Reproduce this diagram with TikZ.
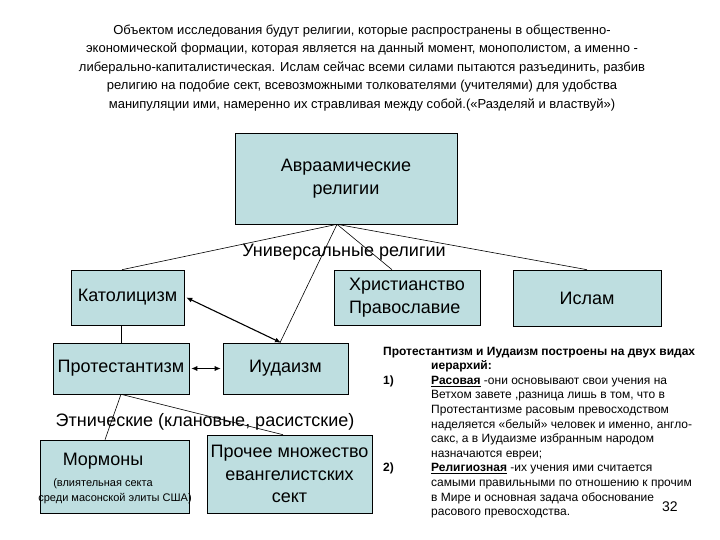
\documentclass[tikz,border=0pt]{standalone}
\usepackage{fontspec}
\setmainfont{Liberation Sans}
\usetikzlibrary{arrows.meta}
\definecolor{boxfill}{RGB}{190,222,224}
\tikzset{
  box/.style={draw=black, line width=0.6pt, fill=boxfill, rectangle, inner sep=0pt, font=\fontsize{18}{22.5}\selectfont, align=center},
  conn/.style={draw=black, line width=0.6pt},
  dbl/.style={draw=black, line width=1.1pt, {Latex[length=6pt,width=5pt]}-{Latex[length=6pt,width=5pt]}},
  lbl/.style={font=\fontsize{18}{22}\selectfont, inner sep=0pt},
  small/.style={font=\fontsize{11}{14}\selectfont, inner sep=0pt},
  rt/.style={font=\fontsize{12}{14}\selectfont, inner sep=0pt, anchor=base west},
  rtb/.style={rt, font=\fontsize{12}{14}\selectfont\bfseries},
}
\begin{document}
\begin{tikzpicture}[x=1pt,y=-1pt]
\useasboundingbox (0,0) rectangle (720,540);
\node[font=\fontsize{13}{18.5}\selectfont, align=center, inner sep=0pt] (intro) at (362,68)
{Объектом исследования будут религии, которые распространены в общественно-\\
экономической формации, которая является на данный момент, монополистом, а именно -\\
либерально-капиталистическая. Ислам сейчас всеми силами пытаются разъединить, разбив\\
религию на подобие сект, всевозможными толкователями (учителями) для удобства\\
манипуляции ими, намеренно их стравливая между собой.(«Разделяй и властвуй»)};

\node[box, minimum width=222pt, minimum height=91pt] (abr) at (346,178.5) {Авраамические\\религии};
\node[box, minimum width=113pt, minimum height=55pt] (kat) at (127.5,297.5) {Католицизм};
\node[box, minimum width=146pt, minimum height=55pt, align=left] (hrist) at (407,297.5) {Христианство\\Православие};
\node[box, minimum width=148pt, minimum height=56pt] (islam) at (587,298) {Ислам};
\node[box, minimum width=136pt, minimum height=51pt] (prot) at (121,368.5) {Протестантизм};
\node[box, minimum width=125pt, minimum height=51pt] (iud) at (285.5,368.5) {Иудаизм};
\node[box, minimum width=149pt, minimum height=73pt] (morm) at (114.5,476.5) {};
\node[box, minimum width=165pt, minimum height=78pt] (proch) at (289.5,474) {Прочее множество\\евангелистских\\сект};

\node[lbl] (mormt) at (103,461) {Мормоны};
\node[small] (mormt1) at (103,484) {(влиятельная секта};
\node[small] (mormt2) at (115,499) {среди масонской элиты США)};

\coordinate (apex) at ([xshift=-9pt]abr.south);
\draw[conn] (apex) -- ([xshift=-5.5pt]kat.north);
\draw[conn] (apex) -- ([xshift=-5.5pt]iud.north);
\draw[conn] (apex) -- ([xshift=-15pt]hrist.north);
\draw[conn] (apex) -- (islam.north);
\draw[conn] (prot.north) -- (prot.north |- kat.south);
\draw[dbl] ([xshift=2pt]kat.east) -- ([xshift=-4.5pt]iud.north);
\draw[dbl, line width=0.8pt] ([xshift=2pt]prot.east) -- ([xshift=-2pt]iud.west);
\draw[conn] (prot.south) -- ([xshift=-9.5pt]morm.north);
\draw[conn] (prot.south) -- ([xshift=-6.5pt]proch.north);

\node[lbl] (univ) at (344,252) {Универсальные религии};
\node[lbl] (ethn) at (205,422) {Этнические (клановые, расистские)};

\node[rtb] (r1) at (383,355) {Протестантизм и Иудаизм построены на двух видах};
\node[rtb] (r2) at (431,369.6) {иерархий:};
\node[rtb] (n1) at (383,384.2) {1)};
\node[rt] (r3) at (431,384.2) {\textbf{\underline{Расовая}} -они основывают свои учения на};
\node[rt] (r4) at (431,398.8) {Ветхом завете ,разница лишь в том, что в};
\node[rt] (r5) at (431,413.4) {Протестантизме расовым превосходством};
\node[rt] (r6) at (431,428) {наделяется «белый» человек и именно, англо-};
\node[rt] (r7) at (431,442.6) {сакс, а в Иудаизме избранным народом};
\node[rt] (r8) at (431,457.2) {назначаются евреи;};
\node[rtb] (n2) at (383,471.8) {2)};
\node[rt] (r9) at (431,471.8) {\textbf{\underline{Религиозная}} -их учения ими считается};
\node[rt] (r10) at (431,486.4) {самыми правильными по отношению к прочим};
\node[rt] (r11) at (431,501) {в Мире и основная задача обоснование};
\node[rt] (r12) at (431,515.6) {расового превосходства.};
\node[font=\fontsize{14}{16}\selectfont, inner sep=0pt, anchor=base west] (pg) at (662,511) {32};
\end{tikzpicture}
\end{document}
